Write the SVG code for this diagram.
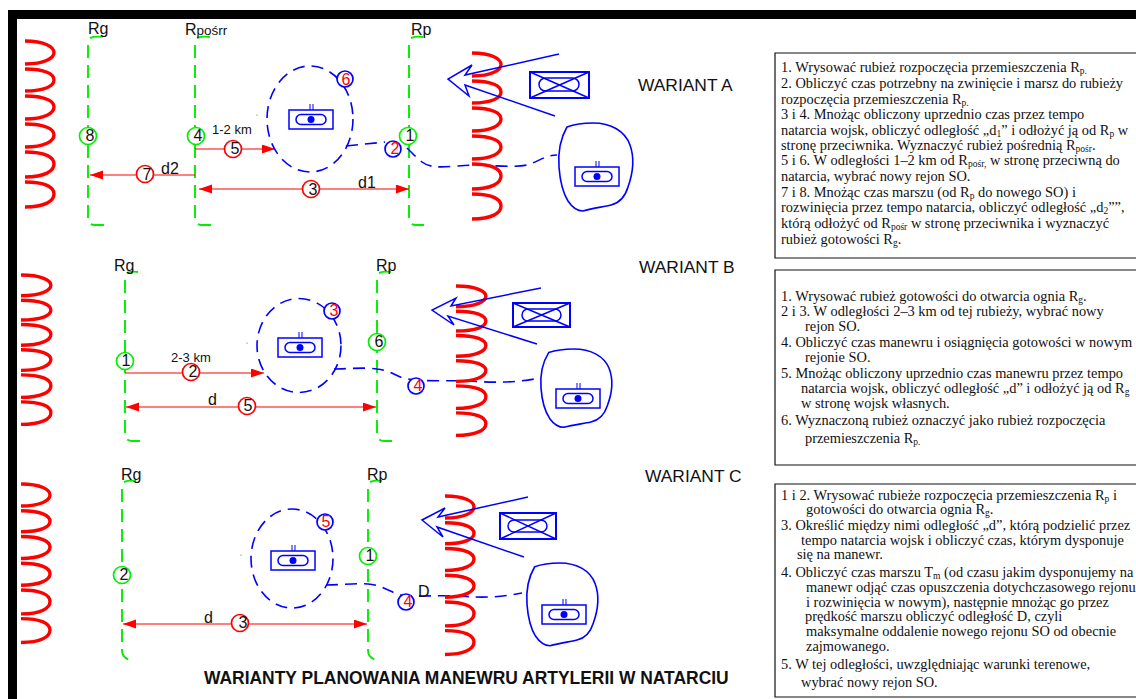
<svg xmlns="http://www.w3.org/2000/svg" width="1136" height="699" viewBox="0 0 1136 699">
<style>
.lbl{font-family:"Liberation Sans",Arial,sans-serif;font-size:16px;fill:#111}
.var{font-family:"Liberation Sans",Arial,sans-serif;font-size:17.400px;fill:#111}
.sm{font-family:"Liberation Sans",Arial,sans-serif;font-size:13px;fill:#111}
.num{font-family:"Liberation Sans",Arial,sans-serif;font-size:16px;text-anchor:middle}
.k{fill:#111}.r{fill:#f00}
.gc{fill:#fff;stroke:#0e0;stroke-width:1.700}
.rc{fill:#fff;stroke:#f00;stroke-width:1.700}
.bc{fill:#fff;stroke:#00f;stroke-width:1.700}
.gl{fill:none;stroke:#0e0;stroke-width:1.900;stroke-dasharray:13 7}
.arr{fill:none;stroke:#f00;stroke-width:1.200}
.route{fill:none;stroke:#00f;stroke-width:1.600;stroke-dasharray:12 7}
.zone{fill:none;stroke:#00f;stroke-width:1.600;stroke-dasharray:12 7}
.coil{fill:none;stroke:#f00;stroke-width:3.400;vector-effect:non-scaling-stroke}
.blob{fill:none;stroke:#00f;stroke-width:1.600;vector-effect:non-scaling-stroke}
.sym{fill:none;stroke:#00f;stroke-width:1.500}
.sym2{fill:none;stroke:#00f;stroke-width:2}
.box{fill:#fff;stroke:#111;stroke-width:1.200}
.t{font-family:"Liberation Serif","Times New Roman",serif;font-size:14.400px;fill:#111}
.s{font-size:9.500px}
</style>
<defs>
<marker id="ah" markerUnits="userSpaceOnUse" markerWidth="14" markerHeight="10" refX="13" refY="4.500" orient="auto-start-reverse"><path d="M0 0L13 4.500L0 9Z" fill="#f00"/></marker>
<path id="coilp" class="coil" d="M0 0C20 0 29 6 29 11.500C29 17 20 23 0 23M0 28C20 28 29 33 29 39C29 45 20 50 0 50M0 55C20 55 29 60 29 66C29 72 20 78 0 78M0 83C20 83 29 88 29 94C29 100 20 106 0 106M0 111C20 111 29 116 29 123C29 130 20 136 0 136M0 141C20 141 29 146 29 153C29 160 20 166 0 166"/>
<path id="blobp" class="blob" d="M8 4C16 1 26 0 34 0C52 0 66 8 71 22C76 36 74 50 69 64C66 74 60 80 52 82C44 84 34 85 24 88C18 88 13 84 9 78C4 70 1 58 0 44C-1 30 1 16 8 4Z"/>
<g id="icon" class="sym"><rect x="0" y="6" width="44" height="19"/><rect x="7" y="10.500" width="30" height="10" rx="5"/><circle cx="22" cy="15.500" r="3.500" fill="#00f" stroke="none"/><path d="M21 0V6M24 0V6" stroke-width="1"/></g>
</defs>
<rect x="8" y="10" width="1128" height="9" fill="#000"/>
<rect x="8" y="10" width="9" height="689" fill="#000"/>

<g id="connectors">
<path class="gl" d="M90 38Q95 36 104 37M88 45V218Q88 225 95 225H104"/>
<path class="gl" d="M197 38Q202 36 210 37M195 45V218Q195 225 202 225H211"/>
<path class="gl" d="M411 38Q416 36 423 37M409 45V218Q409 225 416 225H424"/>
<path class="gl" d="M127 273Q132 271 138 272M125 280V433Q125 441 132 441H140"/>
<path class="gl" d="M379 273Q384 271 391 272M377 280V433Q377 441 384 441H392"/>
<path class="gl" d="M124 482Q129 480 136 481M122 489V650Q122 660 134 660"/>
<path class="gl" d="M370 482Q375 480 382 481M368 489V650Q368 660 380 660"/>
<path class="arr" d="M195 149H275" marker-end="url(#ah)"/>
<path class="arr" d="M195 175H90" marker-end="url(#ah)"/>
<path class="arr" d="M199 189H409" marker-start="url(#ah)" marker-end="url(#ah)"/>
<path class="arr" d="M125 373H264" marker-end="url(#ah)"/>
<path class="arr" d="M126 407H376" marker-start="url(#ah)" marker-end="url(#ah)"/>
<path class="arr" d="M123 624H367" marker-start="url(#ah)" marker-end="url(#ah)"/>
<path class="route" d="M346 146L385 142"/>
<path class="route" d="M407 148C412 153 417 158 422 162C432 170 450 166 473 165C490 165 515 168 527 165C538 162 545 155 557 155"/>
<path class="route" d="M334 369C345 369 365 367 377 369C390 370 398 378 408 379C425 382 450 380 470 381C485 382 510 384 540 378"/>
<path class="route" d="M326 585C340 585 355 583 368 584C382 585 392 593 400 595C420 597 440 595 460 596C475 597 490 599 522 593"/>
</g>

<g id="variant-a">
<use href="#coilp" transform="translate(25 41)"/>
<use href="#coilp" transform="translate(472 53)"/>
<text class="lbl" x="88" y="34">Rg</text>
<text class="lbl" x="185" y="35">R<tspan font-size="13.500">pośrr</tspan></text>
<text class="lbl" x="411" y="35">Rp</text>
<text class="var" x="638" y="91">WARIANT A</text>
<text class="sm" x="212" y="134">1-2 km</text>
<text class="lbl" x="161" y="174">d2</text>
<text class="lbl" x="358" y="188">d1</text>
<ellipse class="zone" cx="310" cy="119" rx="43" ry="53"/>
<use href="#icon" transform="translate(289 104)"/>
<use href="#blobp" transform="translate(559 123)"/>
<use href="#icon" transform="translate(575 161)"/>
<path class="sym" d="M559 54L465 75L472 65L448 79L469 96L465 85L555 116"/>
<g class="sym2"><rect x="530" y="72" width="59" height="26"/><rect x="539" y="78" width="40" height="13" rx="6.500" stroke-width="1.500"/><path d="M530 72L589 98M589 72L530 98" stroke-width="1.500"/></g>
<circle cx="257" cy="115" r=".6" fill="#555"/>
</g>
<g id="a-8"><circle class="gc" cx="88" cy="136" r="8.500"/><text class="num k" x="90" y="141">8</text></g>
<g id="a-4"><circle class="gc" cx="196" cy="136" r="8.500"/><text class="num k" x="198" y="141">4</text></g>
<g id="a-1"><circle class="gc" cx="408" cy="136" r="8.500"/><text class="num k" x="410" y="141">1</text></g>
<g id="a-2"><circle class="bc" cx="393" cy="149" r="8"/><text class="num r" x="395" y="154">2</text></g>
<g id="a-6"><circle class="bc" cx="345" cy="79" r="8"/><text class="num r" x="346" y="85">6</text></g>
<g id="a-5"><circle class="rc" cx="233" cy="149" r="8.500"/><text class="num k" x="235" y="154">5</text></g>
<g id="a-7"><circle class="rc" cx="145" cy="174" r="8.500"/><text class="num k" x="147" y="180">7</text></g>
<g id="a-3"><circle class="rc" cx="311" cy="189" r="8.500"/><text class="num k" x="313" y="195">3</text></g>

<g id="variant-b">
<use href="#coilp" transform="translate(21 275) scale(1.03 .9)"/>
<use href="#coilp" transform="translate(456 286) scale(1.03 .9)"/>
<text class="lbl" x="114" y="271">Rg</text>
<text class="lbl" x="376" y="271">Rp</text>
<text class="var" x="639" y="273">WARIANT B</text>
<text class="sm" x="171" y="362">2-3 km</text>
<text class="lbl" x="208" y="405">d</text>
<ellipse class="zone" cx="299" cy="345.500" rx="42" ry="47"/>
<use href="#icon" transform="translate(278 332)"/>
<use href="#blobp" transform="translate(541 349) scale(.96 .89)"/>
<use href="#icon" transform="translate(556 383)"/>
<path class="sym" d="M541 288L451 306L456 298L432 310L454 325L448 316L537 344"/>
<g class="sym2"><rect x="513" y="303" width="57" height="24"/><rect x="522" y="309" width="39" height="12" rx="6" stroke-width="1.500"/><path d="M513 303L570 327M570 303L513 327" stroke-width="1.500"/></g>
<circle cx="247" cy="343" r=".6" fill="#555"/>
</g>
<g id="b-1"><circle class="gc" cx="125" cy="361" r="8.500"/><text class="num k" x="126" y="366">1</text></g>
<g id="b-2"><circle class="rc" cx="191" cy="372" r="8.500"/><text class="num k" x="193" y="377">2</text></g>
<g id="b-5"><circle class="rc" cx="247" cy="406" r="8.500"/><text class="num k" x="248" y="411">5</text></g>
<g id="b-3"><circle class="bc" cx="332" cy="311" r="8"/><text class="num r" x="334" y="316">3</text></g>
<g id="b-6"><circle class="gc" cx="377" cy="342" r="8.500"/><text class="num k" x="379" y="347">6</text></g>
<g id="b-4"><circle class="bc" cx="416" cy="386" r="8"/><text class="num r" x="418" y="391">4</text></g>

<g id="variant-c">
<use href="#coilp" transform="translate(21 484) scale(1 .955)"/>
<use href="#coilp" transform="translate(445 496) scale(1 .955)"/>
<text class="lbl" x="121" y="480">Rg</text>
<text class="lbl" x="367" y="480">Rp</text>
<text class="var" x="645" y="482">WARIANT C</text>
<text class="lbl" x="204" y="623">d</text>
<text class="lbl" x="418" y="597">D</text>
<ellipse class="zone" cx="292" cy="558.500" rx="41" ry="49.500"/>
<use href="#icon" transform="translate(271 545)"/>
<use href="#blobp" transform="translate(527 563) scale(.96 .94)"/>
<use href="#icon" transform="translate(542 599)"/>
<path class="sym" d="M528 497L438 517L445 508L422 520L443 537L437 527L524 557"/>
<g class="sym2"><rect x="500" y="513" width="56" height="26"/><rect x="508" y="520" width="39" height="12" rx="6" stroke-width="1.500"/><path d="M500 513L556 539M556 513L500 539" stroke-width="1.500"/></g>
<circle cx="241" cy="555" r=".6" fill="#555"/>
</g>
<g id="c-2"><circle class="gc" cx="122" cy="575" r="8.500"/><text class="num k" x="124" y="580">2</text></g>
<g id="c-1"><circle class="gc" cx="368" cy="556" r="8.500"/><text class="num k" x="370" y="561">1</text></g>
<g id="c-3"><circle class="rc" cx="240" cy="623" r="8.500"/><text class="num k" x="243" y="628">3</text></g>
<g id="c-5"><circle class="bc" cx="325" cy="522" r="8"/><text class="num r" x="326" y="527">5</text></g>
<g id="c-4"><circle class="bc" cx="406" cy="602" r="8"/><text class="num r" x="408" y="607">4</text></g>

<text id="title" x="204" y="684" font-family="'Liberation Sans',Arial,sans-serif" font-size="17.450" font-weight="700" fill="#111">WARIANTY PLANOWANIA MANEWRU ARTYLERII W NATARCIU</text>

<g id="box-a">
<path class="box" d="M1136 53H775V258H1136"/>
<text class="t"><tspan x="781" y="72">1. Wrysować rubież rozpoczęcia przemieszczenia R<tspan class="s" dy="2">p.</tspan></tspan>
<tspan x="781" y="88">2. Obliczyć czas potrzebny na zwinięcie i marsz do rubieży</tspan>
<tspan x="781" y="104">rozpoczęcia przemieszczenia R<tspan class="s" dy="2">p.</tspan></tspan>
<tspan x="781" y="119">3 i 4. Mnożąc obliczony uprzednio czas przez tempo</tspan>
<tspan x="781" y="135">natarcia wojsk, obliczyć odległość „d<tspan class="s" dy="2">1</tspan><tspan dy="-2">” i odłożyć ją  od R</tspan><tspan class="s" dy="2">p</tspan><tspan dy="-2"> w</tspan></tspan>
<tspan x="781" y="150">stronę przeciwnika. Wyznaczyć rubież pośrednią R<tspan class="s" dy="2">pośr</tspan><tspan dy="-2">.</tspan></tspan>
<tspan x="781" y="165">5 i 6. W odległości 1–2 km od R<tspan class="s" dy="2">pośr,</tspan><tspan dy="-2"> w stronę przeciwną do</tspan></tspan>
<tspan x="781" y="181">natarcia, wybrać nowy rejon SO.</tspan>
<tspan x="781" y="197">7 i 8. Mnożąc czas marszu (od R<tspan class="s" dy="2">p</tspan><tspan dy="-2"> do nowego SO) i</tspan></tspan>
<tspan x="781" y="212">rozwinięcia przez tempo natarcia, obliczyć odległość  „d<tspan class="s" dy="2">2</tspan><tspan dy="-2">””,</tspan></tspan>
<tspan x="781" y="228">którą odłożyć od R<tspan class="s" dy="2">pośr</tspan><tspan dy="-2">  w stronę przeciwnika i wyznaczyć</tspan></tspan>
<tspan x="781" y="244">rubież gotowości R<tspan class="s" dy="2">g</tspan><tspan dy="-2">.</tspan></tspan></text>
</g>
<g id="box-b">
<path class="box" d="M1136 270H775V465H1136"/>
<text class="t"><tspan x="781" y="301">1. Wrysować rubież gotowości do otwarcia ognia R<tspan class="s" dy="2">g</tspan><tspan dy="-2">.</tspan></tspan>
<tspan x="781" y="316">2 i 3. W odległości 2–3 km od tej rubieży, wybrać nowy</tspan>
<tspan x="805" y="331">rejon SO.</tspan>
<tspan x="781" y="347">4. Obliczyć czas manewru i osiągnięcia gotowości w nowym</tspan>
<tspan x="805" y="362">rejonie SO.</tspan>
<tspan x="781" y="378">5. Mnożąc obliczony uprzednio czas manewru przez tempo</tspan>
<tspan x="801" y="393">natarcia wojsk, obliczyć odległość „d” i odłożyć ją od R<tspan class="s" dy="2">g</tspan></tspan>
<tspan x="801" y="408">w stronę wojsk własnych.</tspan>
<tspan x="781" y="425">6. Wyznaczoną rubież oznaczyć jako rubież rozpoczęcia</tspan>
<tspan x="805" y="443">przemieszczenia R<tspan class="s" dy="2">p.</tspan></tspan></text>
</g>
<g id="box-c">
<path class="box" d="M1136 484H775V697H1136"/>
<text class="t"><tspan x="781" y="500">1 i 2. Wrysować rubieże rozpoczęcia przemieszczenia R<tspan class="s" dy="2">p</tspan><tspan dy="-2"> i</tspan></tspan>
<tspan x="806" y="514">gotowości do otwarcia ognia R<tspan class="s" dy="2">g</tspan><tspan dy="-2">.</tspan></tspan>
<tspan x="781" y="530">3. Określić między nimi odległość „d”, którą podzielić przez</tspan>
<tspan x="801" y="545">tempo natarcia wojsk i obliczyć czas, którym dysponuje</tspan>
<tspan x="797" y="559">się na manewr.</tspan>
<tspan x="781" y="577">4. Obliczyć czas marszu T<tspan class="s" dy="2">m</tspan><tspan dy="-2"> (od czasu jakim dysponujemy na</tspan></tspan>
<tspan x="806" y="592">manewr odjąć czas opuszczenia dotychczasowego rejonu</tspan>
<tspan x="806" y="607">i rozwinięcia w nowym), następnie mnożąc go przez</tspan>
<tspan x="805" y="621">prędkość marszu obliczyć odległość D, czyli</tspan>
<tspan x="806" y="636">maksymalne oddalenie nowego rejonu SO od obecnie</tspan>
<tspan x="806" y="651">zajmowanego.</tspan>
<tspan x="781" y="669">5. W tej odległości, uwzględniając warunki terenowe,</tspan>
<tspan x="801" y="687">wybrać nowy rejon SO.</tspan></text>
</g>
</svg>
